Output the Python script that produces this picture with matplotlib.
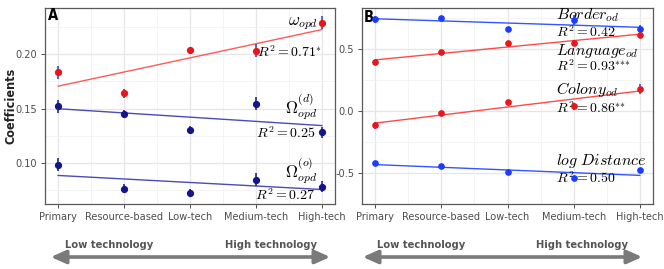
import numpy as np
import matplotlib
matplotlib.use("Agg")
import matplotlib.pyplot as plt
from matplotlib.patches import FancyArrowPatch

plt.rcParams['font.family'] = ['DejaVu Sans']
plt.rcParams['font.stretch'] = 'condensed'
plt.rcParams['mathtext.fontset'] = 'cm'

categories = ["Primary", "Resource-based", "Low-tech", "Medium-tech", "High-tech"]

# panel A
omega = [0.1834, 0.1638, 0.2037, 0.2030, 0.2288]
omega_err = [0.006, 0.004, 0.003, 0.006, 0.006]
omega_d = [0.1521, 0.1450, 0.1306, 0.1545, 0.1280]
omega_d_err = [0.006, 0.004, 0.003, 0.006, 0.005]
omega_o = [0.0983, 0.0764, 0.0727, 0.0843, 0.0782]
omega_o_err = [0.006, 0.004, 0.003, 0.006, 0.005]

# panel B
border = [0.738, 0.750, 0.664, 0.730, 0.662]
border_err = [0.03, 0.01, 0.01, 0.04, 0.03]
language = [0.392, 0.473, 0.549, 0.551, 0.612]
language_err = [0.02, 0.01, 0.01, 0.02, 0.02]
colony = [-0.115, -0.020, 0.076, 0.037, 0.180]
colony_err = [0.03, 0.02, 0.01, 0.03, 0.04]
distance = [-0.421, -0.441, -0.495, -0.544, -0.478]
distance_err = [0.01, 0.01, 0.01, 0.01, 0.01]

x = np.arange(1, len(categories) + 1)

fig = plt.figure(figsize=(6.64, 2.69), dpi=100)
axA = fig.add_axes([45 / 664, 65 / 269, 290 / 664, 196 / 269])
axB = fig.add_axes([362 / 664, 65 / 269, 291 / 664, 196 / 269])


def style(ax, ylim, yticks, ylabels):
    ax.set_xlim(0.8, 5.2)
    ax.set_ylim(*ylim)
    ax.set_xticks(x)
    ax.set_xticklabels(categories)
    ax.set_xticks(x[:-1] + 0.5, minor=True)
    ax.set_yticks(yticks)
    ax.set_yticklabels(ylabels)
    step = yticks[1] - yticks[0]
    minor = np.arange(yticks[0] - step / 2, ylim[1], step)
    ax.set_yticks(minor, minor=True)
    ax.grid(which='major', color='#e6e6e6', lw=0.9)
    ax.grid(which='minor', color='#f2f2f2', lw=0.6)
    ax.set_axisbelow(True)
    ax.tick_params(which='major', length=3, width=0.6, color='#333333',
                   labelsize=7.8, labelcolor='#4d4d4d', pad=2.5)
    ax.tick_params(which='minor', length=0)
    for s in ax.spines.values():
        s.set_color('#5a5a5a')
        s.set_linewidth(0.9)


def series(ax, y, err, pcol, lcol, ecol, ms):
    ax.errorbar(x, y, yerr=err, fmt='none', ecolor=ecol, elinewidth=1.1, zorder=3)
    ax.plot(x, y, 'o', color=pcol, ms=ms, zorder=4)
    k, b = np.polyfit(x, y, 1)
    ax.plot(x[[0, -1]], k * x[[0, -1]] + b, color=lcol, lw=1.0, zorder=2)


navy = '#14148c'
style(axA, (0.0622, 0.2424), [0.10, 0.15, 0.20], ["0.10", "0.15", "0.20"])
series(axA, omega, omega_err, '#e8151b', '#ff5a5a', '#3a3ab0', 4.2)
series(axA, omega_d, omega_d_err, navy, '#4a4ab8', navy, 4.2)
series(axA, omega_o, omega_o_err, navy, '#4a4ab8', navy, 4.2)
axA.set_ylabel("Coefficients", fontsize=9, fontweight='bold', color='#222222')
axA.yaxis.set_label_coords(-0.095, 0.5)

fs = 10
axA.text(4.94, 0.2290, r"$\omega_{opd}$", ha='right', va='center', fontsize=fs + 2)
axA.text(5.00, 0.2018, r"$R^2 = 0.71^{*}$", ha='right', va='center', fontsize=fs)
axA.text(4.94, 0.1517, r"$\Omega_{opd}^{(d)}$", ha='right', va='center', fontsize=fs + 2)
axA.text(4.90, 0.1273, r"$R^2 = 0.25$", ha='right', va='center', fontsize=fs)
axA.text(4.94, 0.0923, r"$\Omega_{opd}^{(o)}$", ha='right', va='center', fontsize=fs + 2)
axA.text(4.90, 0.0704, r"$R^2 = 0.27$", ha='right', va='center', fontsize=fs)
axA.text(0.84, 0.2355, "A", ha='left', va='center', fontsize=10.5, fontweight='bold')

blue = '#1a3cff'
style(axB, (-0.61, 0.83), [-0.5, 0.0, 0.5], ["-0.5", "0.0", "0.5"])
series(axB, border, border_err, blue, '#3355ff', blue, 3.8)
series(axB, language, language_err, '#e8151b', '#ff4a4a', blue, 3.8)
series(axB, colony, colony_err, '#e8151b', '#ff4a4a', blue, 3.8)
series(axB, distance, distance_err, blue, '#3355ff', blue, 3.8)

tx = 3.73
fb = 11.5
axB.text(tx, 0.772, r"$Border_{od}$", ha='left', va='center', fontsize=fb)
axB.text(tx, 0.635, r"$R^2 = 0.42$", ha='left', va='center', fontsize=fs)
axB.text(tx, 0.487, r"$Language_{od}$", ha='left', va='center', fontsize=fb)
axB.text(tx, 0.362, r"$R^2 = 0.93^{{*}{*}{*}}$", ha='left', va='center', fontsize=fs)
axB.text(tx, 0.173, r"$Colony_{od}$", ha='left', va='center', fontsize=fb)
axB.text(tx, 0.022, r"$R^2 = 0.86^{{*}{*}}$", ha='left', va='center', fontsize=fs)
axB.text(tx, -0.405, r"$log\ Distance$", ha='left', va='center', fontsize=fb)
axB.text(tx, -0.544, r"$R^2 = 0.50$", ha='left', va='center', fontsize=fs)
axB.text(0.83, 0.755, "B", ha='left', va='center', fontsize=10.5, fontweight='bold')

# technology arrows under each panel
for x0, x1, lo, hi in [(48, 333, 65, 317), (360, 645, 377, 628)]:
    y = 1 - 257 / 269
    arr = FancyArrowPatch((x0 / 664, y), (x1 / 664, y), transform=fig.transFigure,
                          arrowstyle='<|-|>,head_length=0.9,head_width=0.4',
                          mutation_scale=10, lw=2.6, color='#7a7a7a')
    fig.patches.append(arr)
    fig.text(lo / 664, 1 - 245 / 269, "Low technology", ha='left', va='center',
             fontsize=8, fontweight='bold', color='#555555')
    fig.text(hi / 664, 1 - 245 / 269, "High technology", ha='right', va='center',
             fontsize=8, fontweight='bold', color='#555555')

fig.savefig("out.png", dpi=100)
